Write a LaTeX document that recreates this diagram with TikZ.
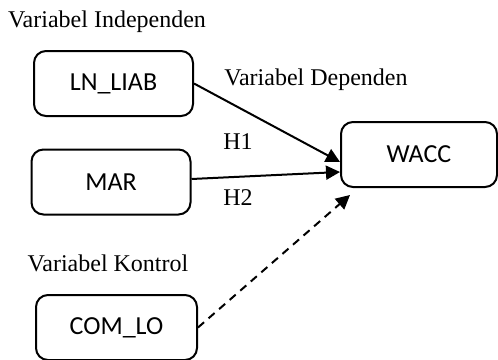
\documentclass[tikz,border=0pt]{standalone}
\usepackage{fontspec}
\setmainfont{Liberation Serif}
\newfontfamily\boxfont{Carlito}
\usetikzlibrary{arrows.meta,positioning,calc}

\begin{document}
\begin{tikzpicture}[x=0.5pt,y=-0.5pt,>={Triangle[length=7pt,width=7pt]},line width=1pt,
  var/.style={draw,rounded corners=6pt,minimum width=79.5pt,minimum height=32.5pt,font=\boxfont\fontsize{13}{15}\selectfont},
  lbl/.style={font=\fontsize{12}{14}\selectfont,inner sep=0pt}]
\useasboundingbox (0,0) rectangle (498,359);
\node[lbl] (indep) at (107,22) {Variabel Independen};\node[lbl] (dep) at (316,80) {Variabel Dependen};
\node[var] (liab) at (113.5,83.5) {LN\_LIAB};\node[var] (mar) at (111,182) {MAR};
\node[var,minimum width=78pt] (wacc) at (419,154.5) {WACC};
\node[lbl] (h1) at (238,142) {H1};\node[lbl] (h2) at (238,198) {H2};
\node[lbl] (kontrol) at (108,263) {Variabel Kontrol};
\node[var,minimum width=80.5pt] (com) at (116.5,327.5) {COM\_LO};
\draw[->] (liab.east) -- ([yshift=-3.75pt]wacc.west);
\draw[->] ([yshift=1.5pt]mar.east) -- ([yshift=-8.75pt]wacc.west);
\draw[->,dash pattern=on 4pt off 3pt] (com.east) -- ([xshift=5pt,yshift=-3.5pt]wacc.south west);
\end{tikzpicture}
\end{document}
